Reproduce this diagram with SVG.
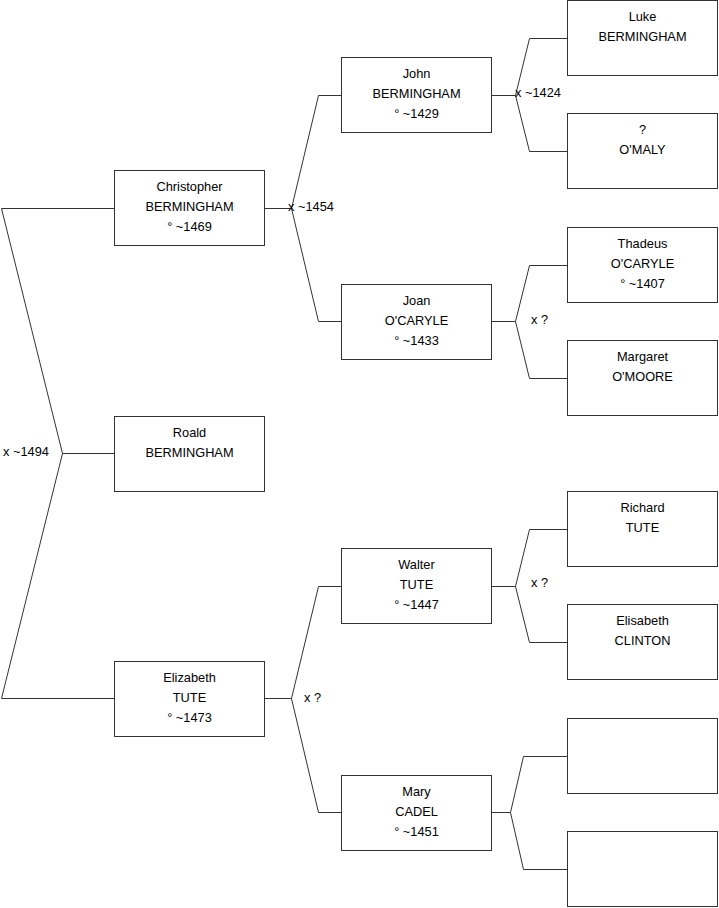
<svg xmlns="http://www.w3.org/2000/svg" width="719" height="908" viewBox="0 0 719 908">
<style>
.box{fill:#fff;stroke:#333;stroke-width:1}
.t{font-family:"Liberation Sans",Arial,sans-serif;font-size:12.8px;fill:#000;text-anchor:middle}
.l{font-family:"Liberation Sans",Arial,sans-serif;font-size:12.8px;fill:#000}
.c{fill:none;stroke:#333;stroke-width:1}
</style>
<rect width="719" height="908" fill="#fff"/>
<g id="connectors">
<polyline class="c" points="114.5,208.5 1.5,208.5 62.5,453.5 114.5,453.5"/>
<polyline class="c" points="62.5,453.5 1.5,698.5 114.5,698.5"/>
<polyline class="c" points="264.5,208.5 291.5,208.5 318.5,95.5 341.5,95.5"/>
<polyline class="c" points="291.5,208.5 318.5,321.5 341.5,321.5"/>
<polyline class="c" points="491.5,95.5 515.5,95.5 529.5,38.5 567.5,38.5"/>
<polyline class="c" points="515.5,95.5 529.5,151.5 567.5,151.5"/>
<polyline class="c" points="491.5,321.5 515.5,321.5 529.5,265.5 567.5,265.5"/>
<polyline class="c" points="515.5,321.5 529.5,378.5 567.5,378.5"/>
<polyline class="c" points="264.5,698.5 291.5,698.5 318.5,586.5 341.5,586.5"/>
<polyline class="c" points="291.5,698.5 318.5,812.5 341.5,812.5"/>
<polyline class="c" points="491.5,586.5 515.5,586.5 529.5,529.5 567.5,529.5"/>
<polyline class="c" points="515.5,586.5 529.5,642.5 567.5,642.5"/>
<polyline class="c" points="491.5,812.5 510.5,812.5 523.5,756.5 567.5,756.5"/>
<polyline class="c" points="510.5,812.5 523.5,869.5 567.5,869.5"/>
<text class="l" x="3" y="456">x ~1494</text>
<text class="l" x="288" y="211">x ~1454</text>
<text class="l" x="515" y="97">x ~1424</text>
<text class="l" x="531" y="324">x ?</text>
<text class="l" x="304" y="702">x ?</text>
<text class="l" x="531" y="587">x ?</text>
</g>
<g id="roald"><rect class="box" x="114.5" y="416.5" width="150" height="75"/><text class="t" x="189.5" y="437">Roald</text><text class="t" x="189.5" y="457">BERMINGHAM</text></g>
<g id="christopher"><rect class="box" x="114.5" y="170.5" width="150" height="75"/><text class="t" x="189.5" y="191">Christopher</text><text class="t" x="189.5" y="211">BERMINGHAM</text><text class="t" x="189.5" y="231">° ~1469</text></g>
<g id="elizabeth"><rect class="box" x="114.5" y="661.5" width="150" height="75"/><text class="t" x="189.5" y="682">Elizabeth</text><text class="t" x="189.5" y="702">TUTE</text><text class="t" x="189.5" y="722">° ~1473</text></g>
<g id="john"><rect class="box" x="341.5" y="57.5" width="150" height="75"/><text class="t" x="416.5" y="78">John</text><text class="t" x="416.5" y="98">BERMINGHAM</text><text class="t" x="416.5" y="118">° ~1429</text></g>
<g id="joan"><rect class="box" x="341.5" y="284.5" width="150" height="75"/><text class="t" x="416.5" y="305">Joan</text><text class="t" x="416.5" y="325">O'CARYLE</text><text class="t" x="416.5" y="345">° ~1433</text></g>
<g id="walter"><rect class="box" x="341.5" y="548.5" width="150" height="75"/><text class="t" x="416.5" y="569">Walter</text><text class="t" x="416.5" y="589">TUTE</text><text class="t" x="416.5" y="609">° ~1447</text></g>
<g id="mary"><rect class="box" x="341.5" y="775.5" width="150" height="75"/><text class="t" x="416.5" y="796">Mary</text><text class="t" x="416.5" y="816">CADEL</text><text class="t" x="416.5" y="836">° ~1451</text></g>
<g id="luke"><rect class="box" x="567.5" y="0.5" width="150" height="75"/><text class="t" x="642.5" y="21">Luke</text><text class="t" x="642.5" y="41">BERMINGHAM</text></g>
<g id="omaly"><rect class="box" x="567.5" y="113.5" width="150" height="75"/><text class="t" x="642.5" y="134">?</text><text class="t" x="642.5" y="154">O'MALY</text></g>
<g id="thadeus"><rect class="box" x="567.5" y="227.5" width="150" height="75"/><text class="t" x="642.5" y="248">Thadeus</text><text class="t" x="642.5" y="268">O'CARYLE</text><text class="t" x="642.5" y="288">° ~1407</text></g>
<g id="margaret"><rect class="box" x="567.5" y="340.5" width="150" height="75"/><text class="t" x="642.5" y="361">Margaret</text><text class="t" x="642.5" y="381">O'MOORE</text></g>
<g id="richard"><rect class="box" x="567.5" y="491.5" width="150" height="75"/><text class="t" x="642.5" y="512">Richard</text><text class="t" x="642.5" y="532">TUTE</text></g>
<g id="elisabeth"><rect class="box" x="567.5" y="604.5" width="150" height="75"/><text class="t" x="642.5" y="625">Elisabeth</text><text class="t" x="642.5" y="645">CLINTON</text></g>
<g id="empty1"><rect class="box" x="567.5" y="718.5" width="150" height="75"/></g>
<g id="empty2"><rect class="box" x="567.5" y="831.5" width="150" height="75"/></g>
</svg>
